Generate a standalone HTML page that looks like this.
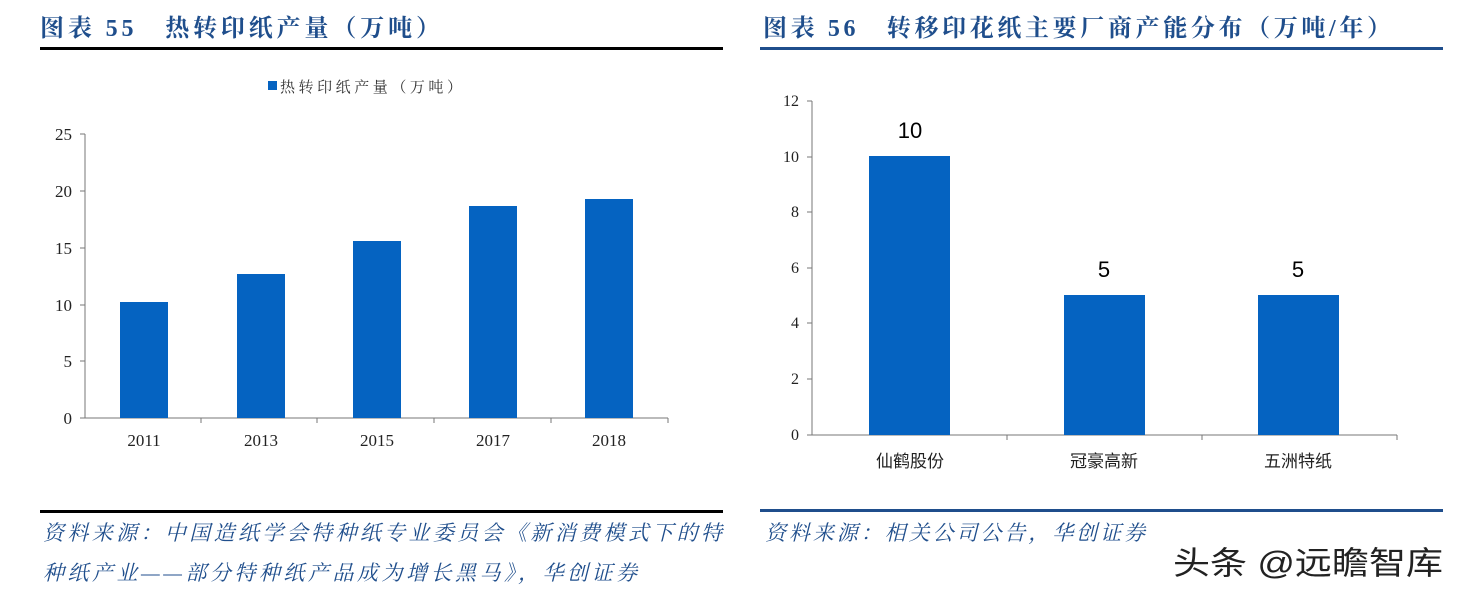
<!DOCTYPE html>
<html><head><meta charset="utf-8"><style>
body{margin:0;background:#fff;}
svg text{font-family:"Liberation Serif","Noto Serif CJK SC",serif;}
svg .cj text, svg text.cj{font-family:"Liberation Sans","Noto Sans CJK SC",sans-serif;}
</style></head><body>
<svg width="1460" height="596" xmlns="http://www.w3.org/2000/svg">
<!-- Left header -->
<text x="40" y="36" font-size="24" font-weight="bold" fill="#1f4e8c" textLength="400" lengthAdjust="spacing">图表 55　热转印纸产量（万吨）</text>
<rect x="40" y="47" width="683" height="3" fill="#000"/>
<rect x="268" y="81" width="9" height="9" fill="#0563c1"/>
<text x="280" y="92" font-size="15" fill="#333" textLength="182" lengthAdjust="spacing">热转印纸产量（万吨）</text>
<g font-size="17" fill="#222" text-anchor="end">
<text x="72" y="140">25</text><text x="72" y="197">20</text><text x="72" y="254">15</text>
<text x="72" y="311">10</text><text x="72" y="367">5</text><text x="72" y="424">0</text>
</g>
<g stroke="#777" stroke-width="1">
<line x1="85" y1="134" x2="85" y2="418"/>
<line x1="80" y1="134" x2="85" y2="134"/><line x1="80" y1="191" x2="85" y2="191"/>
<line x1="80" y1="248" x2="85" y2="248"/><line x1="80" y1="305" x2="85" y2="305"/>
<line x1="80" y1="361" x2="85" y2="361"/><line x1="80" y1="418" x2="85" y2="418"/>
<line x1="85" y1="418" x2="668" y2="418"/>
<line x1="201" y1="418" x2="201" y2="423"/><line x1="317" y1="418" x2="317" y2="423"/>
<line x1="434" y1="418" x2="434" y2="423"/><line x1="551" y1="418" x2="551" y2="423"/>
<line x1="668" y1="418" x2="668" y2="423"/>
</g>
<g fill="#0563c1">
<rect x="120" y="302" width="48" height="116"/>
<rect x="237" y="274" width="48" height="144"/>
<rect x="353" y="241" width="48" height="177"/>
<rect x="469" y="206" width="48" height="212"/>
<rect x="585" y="199" width="48" height="219"/>
</g>
<g font-size="17" fill="#222" text-anchor="middle">
<text x="144" y="446">2011</text><text x="261" y="446">2013</text><text x="377" y="446">2015</text>
<text x="493" y="446">2017</text><text x="609" y="446">2018</text>
</g>
<rect x="40" y="510" width="683" height="3" fill="#000"/>
<g font-size="21" fill="#1f4e8c" font-style="italic">
<text x="43" y="540" textLength="679" lengthAdjust="spacing">资料来源：中国造纸学会特种纸专业委员会《新消费模式下的特</text>
<text x="43" y="580" textLength="594" lengthAdjust="spacing">种纸产业——部分特种纸产品成为增长黑马》，华创证券</text>
</g>

<!-- Right header -->
<text x="763" y="36" font-size="24" font-weight="bold" fill="#1f4e8c" textLength="628" lengthAdjust="spacing">图表 56　转移印花纸主要厂商产能分布（万吨/年）</text>
<rect x="760" y="47" width="683" height="3" fill="#1f4e8c"/>
<g font-size="16" fill="#222" text-anchor="end">
<text x="799" y="106">12</text><text x="799" y="162">10</text><text x="799" y="217">8</text>
<text x="799" y="273">6</text><text x="799" y="328">4</text><text x="799" y="384">2</text><text x="799" y="440">0</text>
</g>
<g stroke="#777" stroke-width="1">
<line x1="812" y1="101" x2="812" y2="435"/>
<line x1="807" y1="101" x2="812" y2="101"/><line x1="807" y1="157" x2="812" y2="157"/>
<line x1="807" y1="212" x2="812" y2="212"/><line x1="807" y1="268" x2="812" y2="268"/>
<line x1="807" y1="323" x2="812" y2="323"/><line x1="807" y1="379" x2="812" y2="379"/>
<line x1="807" y1="435" x2="1397" y2="435"/>
<line x1="1007" y1="435" x2="1007" y2="440"/><line x1="1202" y1="435" x2="1202" y2="440"/>
<line x1="1397" y1="435" x2="1397" y2="440"/>
</g>
<g fill="#0563c1">
<rect x="869" y="156" width="81" height="279"/>
<rect x="1064" y="295" width="81" height="140"/>
<rect x="1258" y="295" width="81" height="140"/>
</g>
<g class="cj" font-size="22" fill="#000" text-anchor="middle">
<text x="910" y="138">10</text><text x="1104" y="277">5</text><text x="1298" y="277">5</text>
</g>
<g class="cj" font-size="17" fill="#222" text-anchor="middle">
<text x="910" y="467">仙鹤股份</text><text x="1104" y="467">冠豪高新</text><text x="1298" y="467">五洲特纸</text>
</g>
<rect x="760" y="509" width="683" height="3" fill="#1f4e8c"/>
<text x="765" y="540" font-size="21" fill="#1f4e8c" font-style="italic" textLength="380" lengthAdjust="spacing">资料来源：相关公司公告，华创证券</text>
<text class="cj" x="1173" y="574" font-size="32" fill="#222" textLength="270" lengthAdjust="spacingAndGlyphs">头条 @远瞻智库</text>
</svg>
</body></html>
